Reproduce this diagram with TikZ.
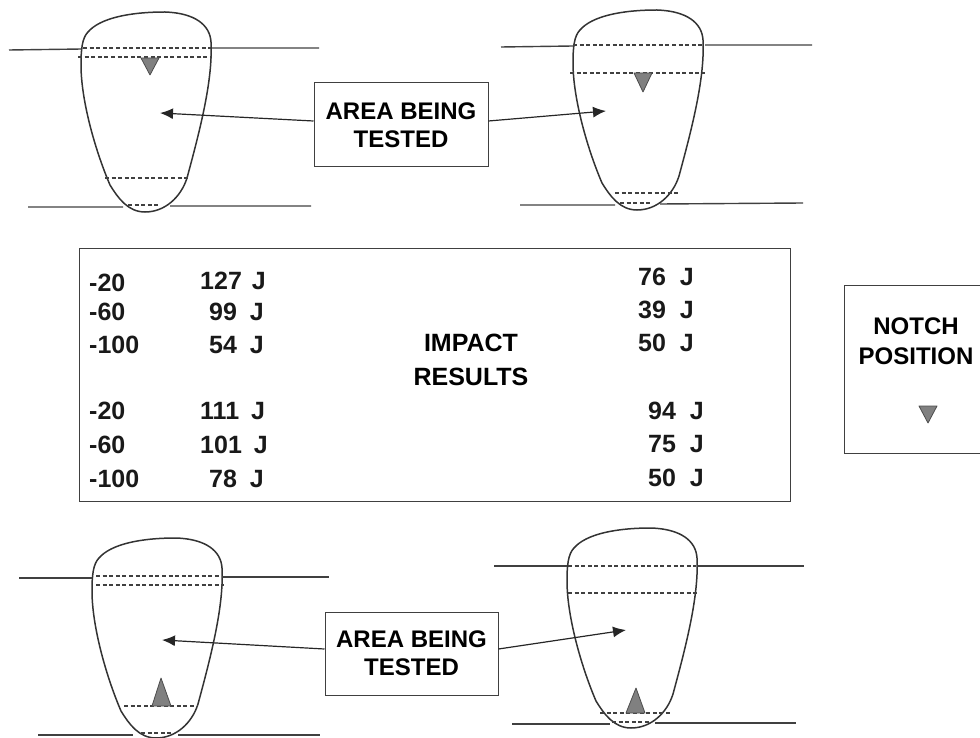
\documentclass[tikz,border=0pt]{standalone}
\usepackage{fontspec}
\setmainfont{Liberation Sans}
\usetikzlibrary{arrows.meta}
\tikzset{
  ln/.style={draw=black!75,line width=1.4pt},
  dsh/.style={draw=black!75,line width=1.2pt,dash pattern=on 4pt off 2.6pt},
  tooth/.style={draw=black!80,line width=1.5pt},
  ntch/.style={draw=black!70,fill=black!50,line width=.8pt,line join=round},
  boxln/.style={draw=black!75,line width=1pt},
  lbl/.style={boxln,align=center,inner sep=0pt,font=\fontsize{24}{28}\selectfont\bfseries},
  val/.style={anchor=west,inner sep=0pt,font=\fontsize{25}{28}\selectfont\bfseries,text=black!90},
  arr/.style={draw=black!85,line width=1.2pt,-{Latex[length=13pt,width=11pt]}}
}
\newcommand{\toothshape}[2]{%
  \begin{scope}[shift={(#1,#2)}]
  \draw[tooth] (145,212) .. controls (128,212) and (118,198) .. (110,185)
    .. controls (95,150) and (81,100) .. (81,65)
    .. controls (81,50) and (82,38) .. (88,32)
    .. controls (100,18) and (130,12) .. (165,12)
    .. controls (195,13) and (210,25) .. (211,42)
    .. controls (213,80) and (200,130) .. (187,178)
    .. controls (181,197) and (165,212) .. (145,212) -- cycle;
  \end{scope}}
\begin{document}
\begin{tikzpicture}[x=1pt,y=-1pt]
\useasboundingbox (0,0) rectangle (980,738);
\toothshape{0}{0}
\toothshape{492}{-2}
\toothshape{11}{526}
\toothshape{486}{516}
% tooth 1
\draw[ln] (9,50)--(82,49) (212,48)--(319,48) (28,207)--(123,207) (170,206)--(311,206);
\draw[dsh] (83,48)--(211,48) (78,57)--(212,57) (105,178)--(188,178) (128,205)--(160,205);
\draw[ntch] (141,58)--(159,58)--(150,75)--cycle;
% tooth 2
\draw[ln] (501,47)--(573,46) (705,45)--(812,45) (520,205)--(615,205) (660,204)--(803,203);
\draw[dsh] (573,45)--(704,45) (570,73)--(705,73) (615,193)--(680,193) (620,203)--(650,203);
\draw[ntch] (634,73)--(652,73)--(643,92)--cycle;
% tooth 3
\draw[ln] (19,578)--(92,578) (222,577)--(329,577) (38,735)--(133,735) (178,735)--(320,735);
\draw[dsh] (96,576)--(221,576) (96,585)--(224,585) (124,706)--(198,706) (141,733)--(172,733);
\draw[ntch] (152,706)--(171,706)--(161,678)--cycle;
% tooth 4
\draw[ln] (494,566)--(567,566) (697,566)--(804,566) (512,724)--(610,724) (655,723)--(796,723);
\draw[dsh] (568,566)--(696,566) (568,593)--(699,593) (600,713)--(670,713) (612,722)--(650,722);
\draw[ntch] (626,713)--(645,713)--(636,688)--cycle;
% label boxes
\node[lbl,minimum width=174pt,minimum height=84pt] (top) at (401,125) {AREA BEING\\TESTED};
\node[lbl,minimum width=173pt,minimum height=83pt] (bot) at (411.5,653.5) {AREA BEING\\TESTED};
\coordinate (t1) at (160,113);
\coordinate (t2) at (606,111);
\coordinate (b1) at (162,640);
\coordinate (b2) at (626,630);
\coordinate (tl) at (top.west |- 0,121);
\coordinate (tr) at (top.east |- 0,121);
\coordinate (bl) at (bot.west |- 0,649);
\coordinate (br) at (bot.east |- 0,649);
\draw[arr] (tl)--(t1);
\draw[arr] (tr)--(t2);
\draw[arr] (bl)--(b1);
\draw[arr] (br)--(b2);
% results
\node[boxln,minimum width=711pt,minimum height=252pt,inner sep=0pt] (res) at (434.5,375) {};
\node[lbl,draw=none,font=\fontsize{25}{34}\selectfont\bfseries] (imp) at (471,360) {IMPACT\\RESULTS};
\foreach \nm/\x/\y/\t in {a/89/283/-20,b/89/312/-60,c/89/345/-100,d/89/411/-20,e/89/445/-60,f/89/479/-100,
   g/200/281/127\kern3pt\ J,h/209/312/99\kern6pt\ J,i/209/345/54\kern6pt\ J,j/200/411/111\kern5pt\ J,k/200/445/101\kern5pt\ J,l/209/479/78\kern6pt\ J,
   m/638/277/76\ \ J,n/638/310/39\ \ J,o/638/343/50\ \ J,p/648/411/94\ \ J,q/648/444/75\ \ J,r/648/478/50\ \ J}
  \node[val] (\nm) at (\x,\y) {\t};
% notch key
\node[boxln,minimum width=137pt,minimum height=168pt,inner sep=0pt] (key) at (912.5,369) {};
\node[lbl,draw=none,font=\fontsize{24}{30}\selectfont\bfseries] (kt) at (916,341) {NOTCH\\POSITION};
\draw[ntch] (919,406)--(937,406)--(928,423)--cycle;
\end{tikzpicture}
\end{document}
